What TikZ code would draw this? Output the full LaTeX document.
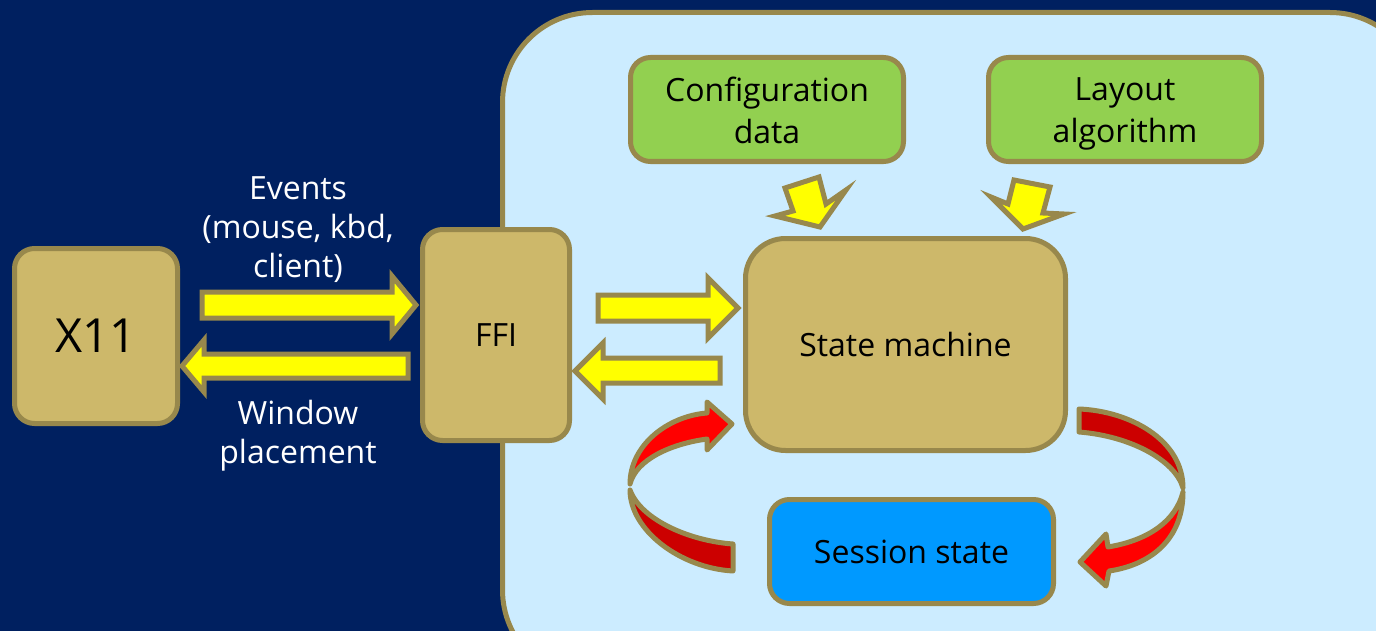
\documentclass[tikz,border=0pt]{standalone}
\usepackage{fontspec}
\setmainfont{Open Sans}
\newcommand\mystrut{\rule[-3.35pt]{0pt}{19.5pt}}
\begin{document}
\begin{tikzpicture}[x=0.5pt,y=-0.5pt]
\definecolor{navy}{RGB}{0,32,96}
\definecolor{panel}{RGB}{204,236,255}
\definecolor{olive}{RGB}{152,136,76}
\definecolor{tan}{RGB}{205,184,106}
\definecolor{grn}{RGB}{146,208,80}
\definecolor{blu}{RGB}{0,153,255}
\definecolor{ylw}{RGB}{255,255,0}
\definecolor{brred}{RGB}{255,0,0}
\definecolor{dkred}{RGB}{204,0,0}
\tikzset{
  box/.style={draw=olive,line width=2.5pt,rounded corners=10pt,inner sep=0pt,align=center,text=black,font=\fontsize{16}{19.5}\selectfont},
  tanbox/.style={box,fill=tan},
  grnbox/.style={box,fill=grn},
  blubox/.style={box,fill=blu},
  yarrow/.style={draw=olive,line width=2.5pt,fill=ylw,line join=miter},
  rarrow/.style={draw=olive,line width=2.5pt,line join=round},
  wlabel/.style={text=white,align=center,font=\fontsize{16}{19.5}\selectfont}
}
\path[use as bounding box,fill=navy] (0,0) rectangle (1376,631);
% panel
\draw[draw=olive,line width=2.5pt,fill=panel,rounded corners=45pt] (502.5,12.5) rectangle (1420,680);
% boxes
\node[tanbox,minimum width=81.5pt,minimum height=87.5pt,font=\fontsize{23.5}{28}\selectfont] (x11) at (96,336) {X11};
\node[tanbox,minimum width=73.5pt,minimum height=105.5pt] (ffi) at (496,335) {FFI};
\node[tanbox,minimum width=160pt,minimum height=106pt,rounded corners=20pt] (sm) at (905.5,344.5) {State machine};
\node[grnbox,minimum width=136.5pt,minimum height=52pt] (cfg) at (767,109.5) {Configuration\mystrut\\data\mystrut};
\node[grnbox,minimum width=136.5pt,minimum height=52pt] (lay) at (1125,109.5) {Layout\mystrut\\algorithm\mystrut};
\node[blubox,minimum width=142pt,minimum height=52pt] (ses) at (911.5,551.5) {Session state};
% labels
\node[wlabel] (ev) at (298,226) {Events\mystrut\\(mouse, kbd,\mystrut\\client)\mystrut};
\node[wlabel] (wp) at (298,432) {Window\mystrut\\placement\mystrut};
% yellow arrows
\draw[yarrow] (202,292) -- (392,292) -- (392,276) -- (416,305) -- (392,334) -- (392,318) -- (202,318) -- cycle;
\draw[yarrow] (408,354) -- (204,354) -- (204,340) -- (182,366) -- (204,392) -- (204,378) -- (408,378) -- cycle;
\draw[yarrow] (598,295) -- (708,295) -- (708,278) -- (738,308) -- (708,338) -- (708,321) -- (598,321) -- cycle;
\draw[yarrow] (720,358) -- (603,358) -- (603,343) -- (575,371) -- (603,399) -- (603,383) -- (720,383) -- cycle;
\draw[yarrow] (785,188) -- (819,177) -- (826,204) -- (846,190) -- (820,227) -- (775,216) -- (793,211) -- cycle;
\draw[yarrow] (1014,180) -- (1050,187) -- (1043,213) -- (1064,214) -- (1023,229) -- (991,197) -- (1008,204) -- cycle;
% red curved arrows (left)
\draw[rarrow,fill=dkred] (630,490) .. controls (630,530) and (680,568) .. (733,571) -- (733,544) .. controls (690,541) and (641,520) .. (630,490) -- cycle;
\draw[rarrow,fill=brred] (630,484) .. controls (630,445) and (668,416) .. (707,413) -- (707,402) -- (732,424) -- (707,450) -- (707,439) .. controls (670,444) and (636,460) .. (630,484) -- cycle;
% red curved arrows (right)
\draw[rarrow,fill=dkred] (1079,409) .. controls (1130,411) and (1183,440) .. (1183,488) .. controls (1175,460) and (1130,436) .. (1079,432) -- cycle;
\draw[rarrow,fill=brred] (1183,492) .. controls (1183,540) and (1150,565) .. (1109,571) -- (1106,586) -- (1080,562) -- (1106,534) -- (1108,547) .. controls (1150,540) and (1176,520) .. (1183,492) -- cycle;
\end{tikzpicture}
\end{document}
